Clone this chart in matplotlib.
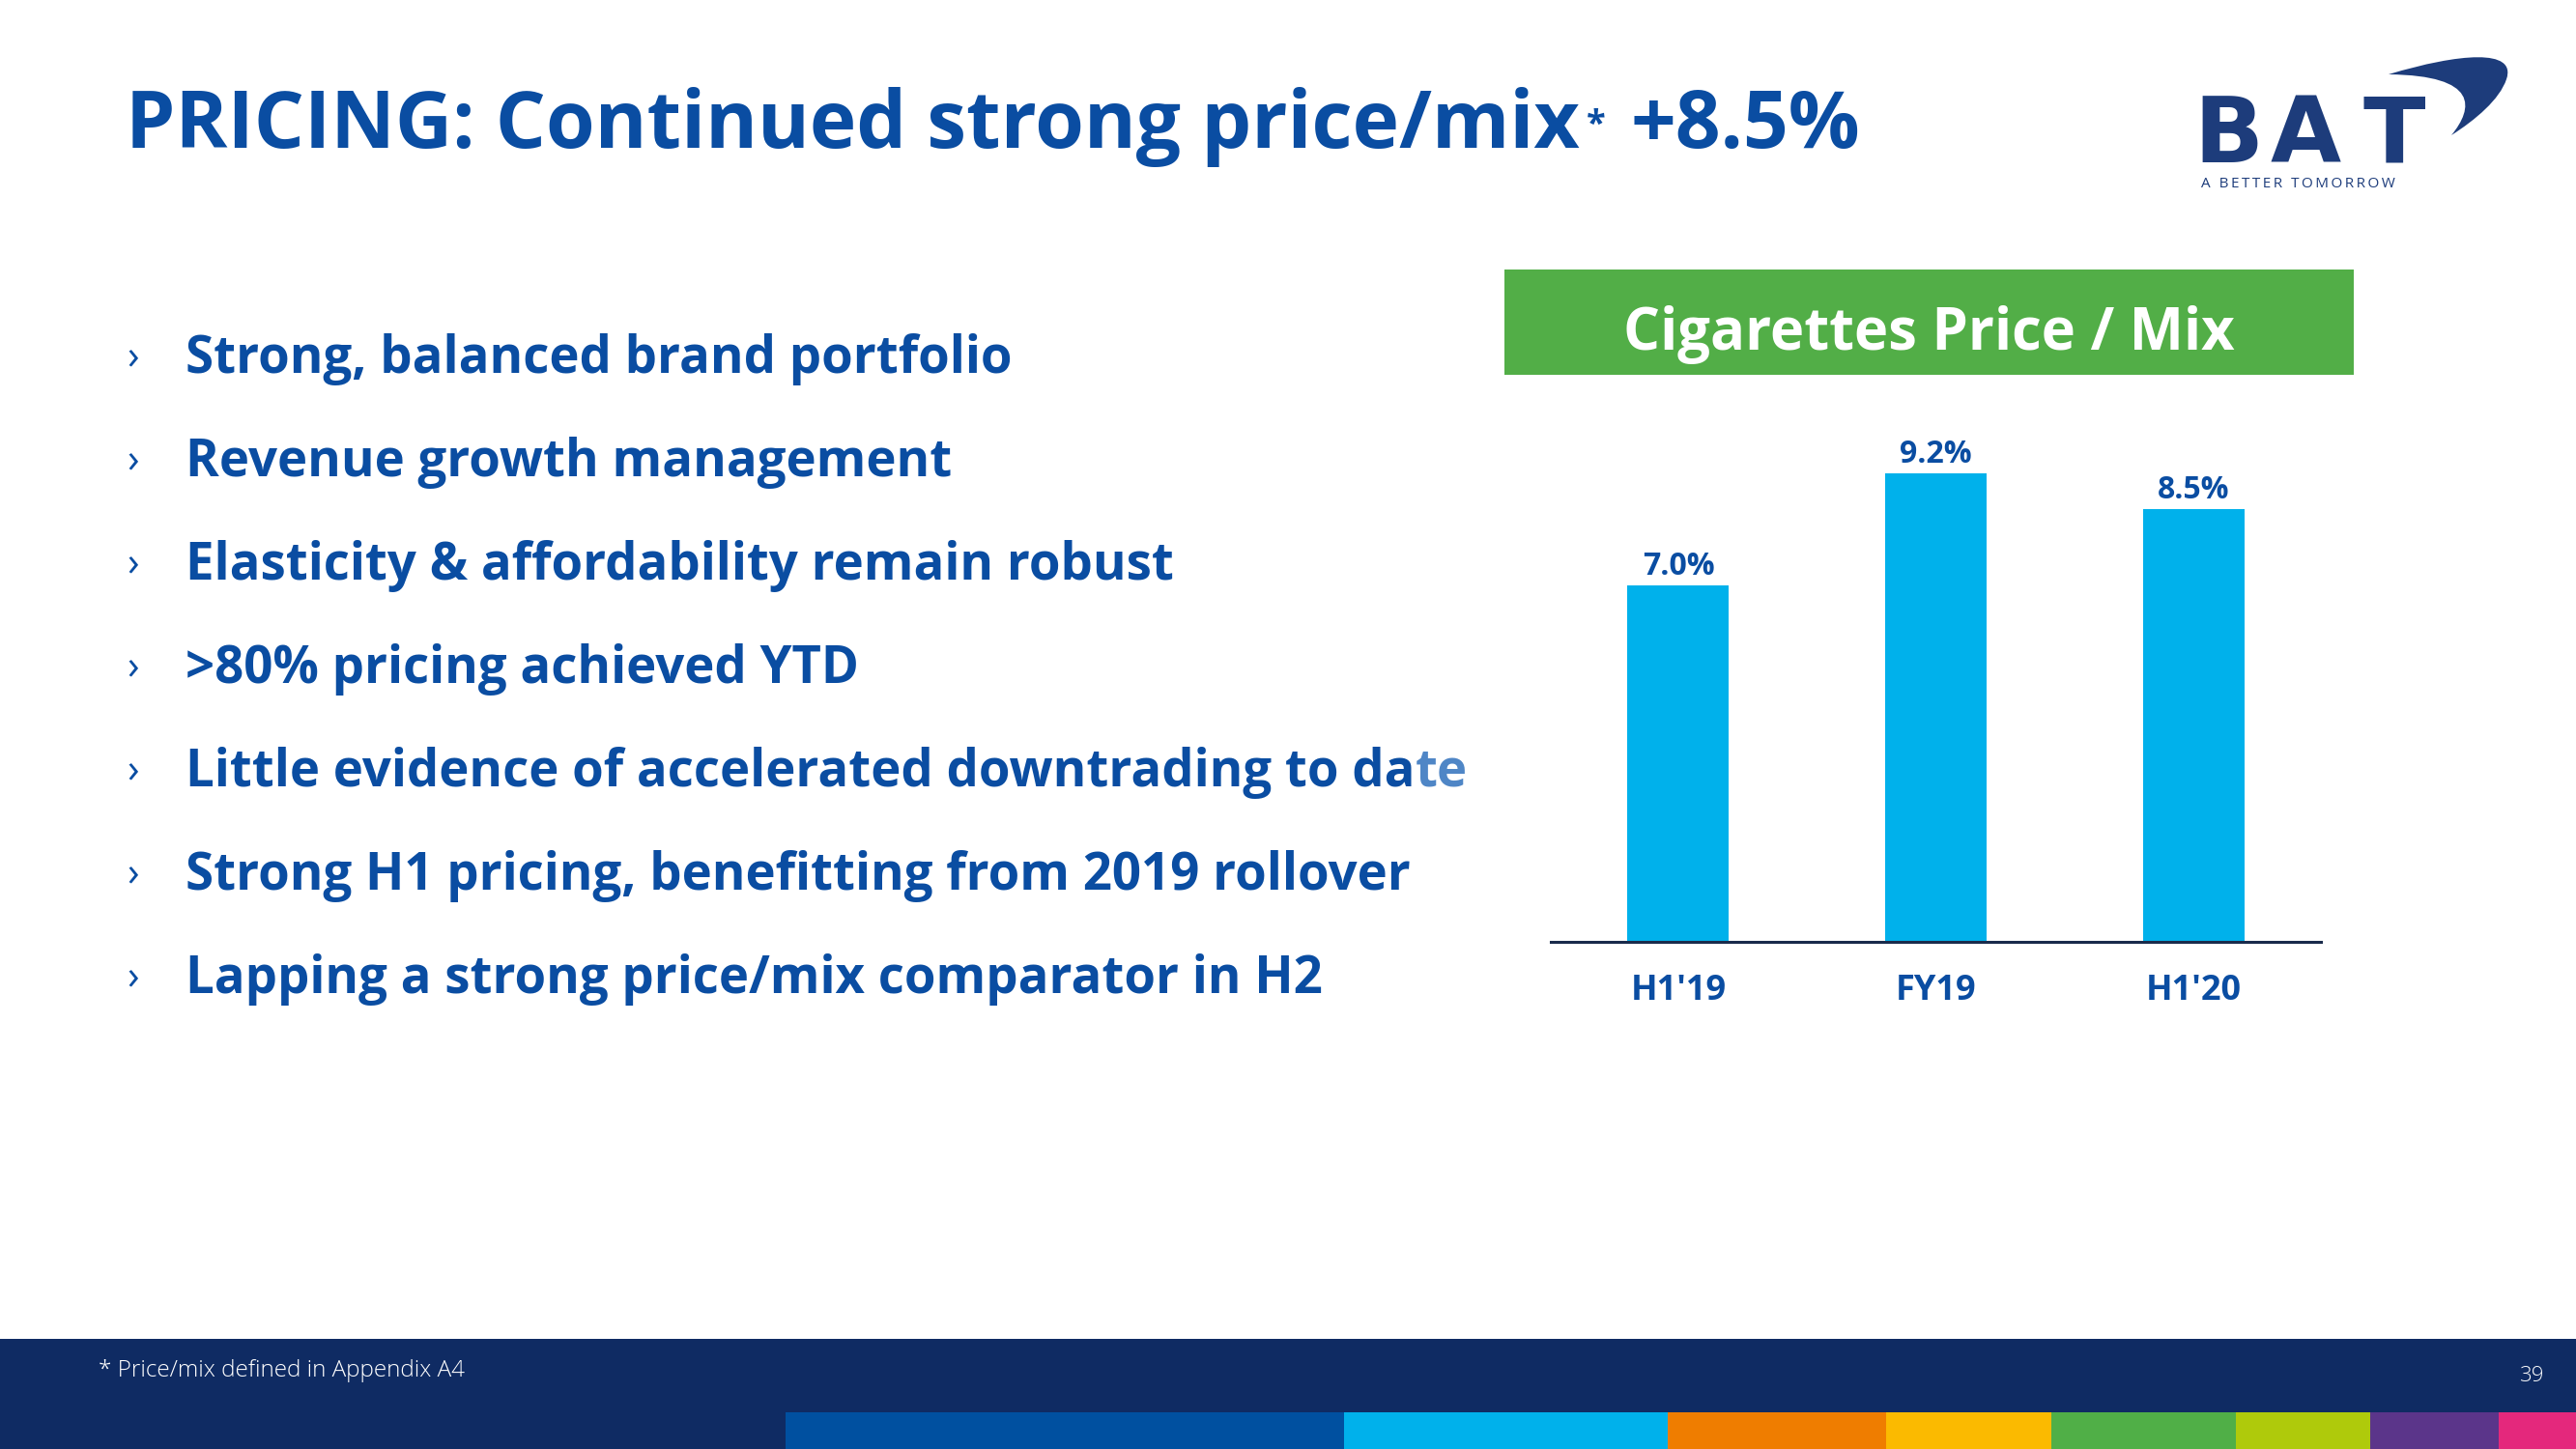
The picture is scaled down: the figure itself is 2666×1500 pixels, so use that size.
import numpy as np
import matplotlib
matplotlib.use('Agg')
import matplotlib.pyplot as plt
from matplotlib.patches import Rectangle, PathPatch
from matplotlib.path import Path

plt.rcParams['font.family'] = ['Open Sans', 'DejaVu Sans']

# data
categories = ["H1'19", "FY19", "H1'20"]
values = [7.0, 9.2, 8.5]
value_labels = ['7.0%', '9.2%', '8.5%']
bullets = ['Strong, balanced brand portfolio',
           'Revenue growth management',
           'Elasticity & affordability remain robust',
           '>80% pricing achieved YTD',
           'Little evidence of accelerated downtrading to da',
           'Strong H1 pricing, benefitting from 2019 rollover',
           'Lapping a strong price/mix comparator in H2']
stripe_edges = [813, 1391, 1726, 1952, 2123, 2314, 2453, 2586, 2666]
stripe_colors = ['#0050A0', '#00B1EB', '#EF7D00', '#FBBA00', '#50AF47',
                 '#AFCA0B', '#5B358A', '#E4287C']

BLUE = '#0A4DA2'
NAVY = '#0F2B63'
LOGO = '#1D3C7B'
W, H = 2666, 1500

fig = plt.figure(figsize=(W / 100, H / 100), dpi=100)
fig.patch.set_facecolor('white')

# background layer in pixel coords
bg = fig.add_axes([0, 0, 1, 1])
bg.set_xlim(0, W)
bg.set_ylim(H, 0)
bg.axis('off')

# title
t1 = bg.text(130, 153, 'PRICING: Continued strong price/mix', fontsize=59,
             fontweight='bold', color=BLUE, va='baseline', ha='left')
bg.annotate('*', xy=(1, 0), xycoords=t1, xytext=(5, 18), textcoords='offset points',
            fontsize=26, fontweight='bold', color=BLUE, va='bottom', ha='left')
bg.annotate('+8.5%', xy=(1, 0), xycoords=t1, xytext=(38, 0), textcoords='offset points',
            fontsize=59, fontweight='bold', color=BLUE, va='bottom', ha='left')

# logo
for ch, cx in zip('BAT', [2306, 2386, 2478]):
    bg.text(cx, 168, ch, fontsize=68, fontweight='bold', color=LOGO,
            va='baseline', ha='center', family='DejaVu Sans')
bg.text(2278, 194, '\u2009'.join('A BETTER TOMORROW'), fontsize=11, color=LOGO,
        va='baseline', ha='left')
verts = [(2472, 77), (2545, 55), (2605, 50), (2594, 82),
         (2587, 103), (2562, 124), (2537, 140),
         (2560, 112), (2566, 78), (2472, 77)]
codes = [Path.MOVETO, Path.CURVE4, Path.CURVE4, Path.CURVE4,
         Path.CURVE4, Path.CURVE4, Path.CURVE4,
         Path.CURVE4, Path.CURVE4, Path.CURVE4]
bg.add_patch(PathPatch(Path(verts, codes), facecolor=LOGO, edgecolor='none'))

# bullets
for i, b in enumerate(bullets):
    y = 386 + i * 107
    bg.text(131, y - 3, '›', fontsize=30, color=BLUE, va='baseline', ha='left')
    tb = bg.text(192, y, b, fontsize=38, fontweight='bold', color=BLUE,
                 va='baseline', ha='left')
    if b.endswith('to da'):
        bg.annotate('te', xy=(1, 0), xycoords=tb, fontsize=38, fontweight='bold',
                    color='#4F86C6', va='bottom', ha='left')

# green header
bg.add_patch(Rectangle((1557, 279), 879, 109, facecolor='#52AE47', edgecolor='none'))
bg.text(1996, 362, 'Cigarettes Price / Mix', fontsize=43, fontweight='bold',
        color='white', ha='center', va='baseline')

# footer
bg.add_patch(Rectangle((0, 1386), W, H - 1386, facecolor=NAVY, edgecolor='none'))
for i, c in enumerate(stripe_colors):
    bg.add_patch(Rectangle((stripe_edges[i], 1462), stripe_edges[i + 1] - stripe_edges[i],
                           38, facecolor=c, edgecolor='none'))
bg.text(102, 1425, '* Price/mix defined in Appendix A4', fontsize=17.5,
        fontweight='light', color='white', va='baseline', ha='left')
bg.text(2633, 1430, '39', fontsize=16, fontweight='light', color='white',
        va='baseline', ha='right')

# bar chart
ax_bottom, ax_top = 975, 440
ax = fig.add_axes([1605 / W, 1 - ax_bottom / H, 797 / W, (ax_bottom - ax_top) / H])
ax.patch.set_alpha(0)
x = np.arange(len(categories))
bars = ax.bar(x, values, width=0.394, color='#00B1EB')
ax.set_xlim(-0.495, 2.495)
ax.set_ylim(0, (ax_bottom - ax_top) / 52.7)
for rect, lab in zip(bars, value_labels):
    ax.annotate(lab, xy=(rect.get_x() + rect.get_width() / 2, rect.get_height()),
                xytext=(0, 2), textcoords='offset points', ha='center', va='bottom',
                fontsize=23, fontweight='bold', color=BLUE)
ax.set_xticks(x)
ax.set_xticklabels(categories, fontsize=26, fontweight='bold', color=BLUE)
ax.tick_params(axis='x', length=0, pad=24)
ax.set_yticks([])
for s in ['top', 'right', 'left']:
    ax.spines[s].set_visible(False)
ax.spines['bottom'].set_color('#1A2B4C')
ax.spines['bottom'].set_linewidth(2.2)

fig.savefig('out.png', dpi=100)
